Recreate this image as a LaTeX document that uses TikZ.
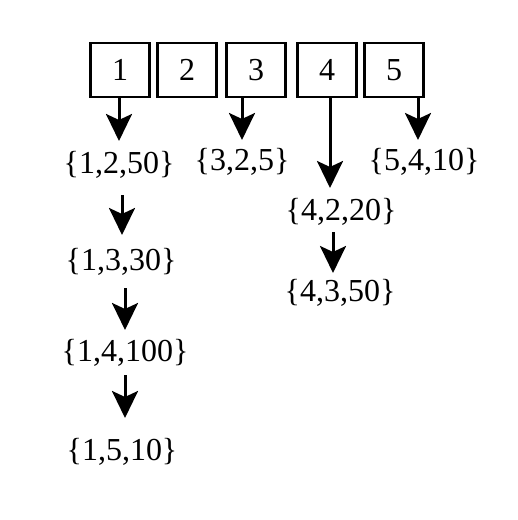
\documentclass[tikz,border=0pt]{standalone}
\usepackage{fontspec}
\setmainfont{Liberation Serif}
\usetikzlibrary{arrows.meta}
\begin{document}
\begin{tikzpicture}[x=1pt,y=-1pt,
  cell/.style={draw, line width=2.8pt, minimum width=59pt, minimum height=54pt, inner sep=0pt, font=\fontsize{32}{35}\selectfont},
  lbl/.style={inner sep=0pt, font=\fontsize{32}{35}\selectfont},
  arr/.style={line width=3pt, -{Stealth[length=27pt,width=26pt,inset=6pt]}}]
\useasboundingbox (0,0) rectangle (518,520);
\node[cell] (b1) at (120,70) {1};
\node[cell] (b2) at (187,70) {2};
\node[cell] (b3) at (256,70) {3};
\node[cell] (b4) at (327,70) {4};
\node[cell] (b5) at (394,70) {5};
\node[lbl] (l12) at (119,165) {\{1,2,50\}};
\node[lbl] (l13) at (121,262) {\{1,3,30\}};
\node[lbl] (l14) at (125,353) {\{1,4,100\}};
\node[lbl] (l15) at (122,452) {\{1,5,10\}};
\node[lbl] (l32) at (242,162) {\{3,2,5\}};
\node[lbl] (l42) at (341,212) {\{4,2,20\}};
\node[lbl] (l43) at (340,293) {\{4,3,50\}};
\node[lbl] (l54) at (424,162) {\{5,4,10\}};
\draw[arr] ([xshift=-1pt]b1.south) -- ([yshift=24pt]l12.center);
\draw[arr] ([xshift=3pt,yshift=-30pt]l12.center) -- ([xshift=1pt,yshift=27pt]l13.center);
\draw[arr] ([xshift=4pt,yshift=-26pt]l13.center) -- ([yshift=23pt]l14.center);
\draw[arr] ([yshift=-22pt]l14.center) -- ([xshift=3pt,yshift=34pt]l15.center);
\draw[arr] ([xshift=-14pt]b3.south) -- ([yshift=22pt]l32.center);
\draw[arr] ([xshift=3pt]b4.south) -- ([xshift=-11pt,yshift=24pt]l42.center);
\draw[arr] ([xshift=24pt]b5.south) -- ([xshift=-6pt,yshift=22pt]l54.center);
\draw[arr] ([xshift=-8pt,yshift=-20pt]l42.center) -- ([xshift=-7pt,yshift=20pt]l43.center);
\end{tikzpicture}
\end{document}
